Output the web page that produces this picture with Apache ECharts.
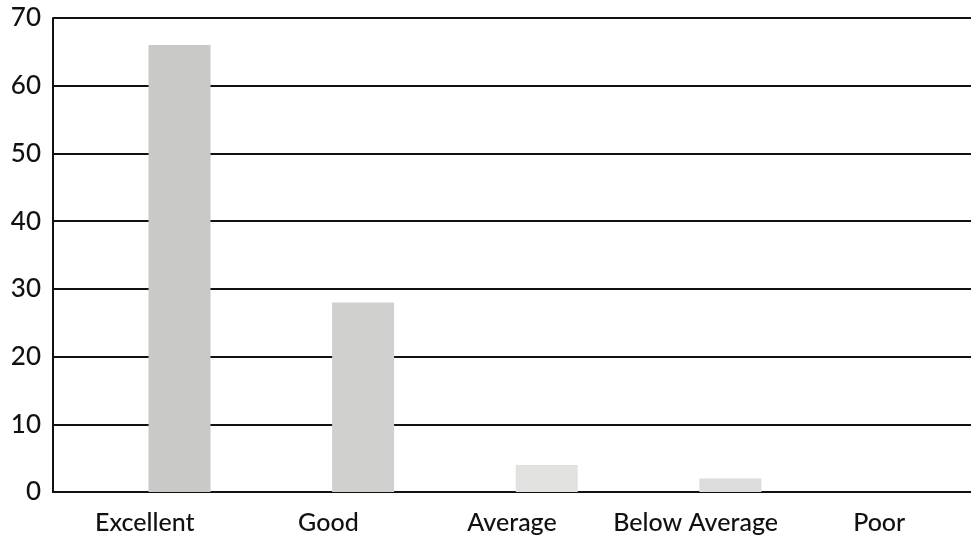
<!DOCTYPE html>
<html>
<head>
<meta charset="utf-8">
<script src="https://cdn.jsdelivr.net/npm/echarts@6/dist/echarts.min.js"></script>
<style>
html,body{margin:0;padding:0;background:#fff;}
#chart{width:971px;height:542px;}
</style>
</head>
<body>
<div id="chart"></div>
<script>
const categories = ["Excellent", "Good", "Average", "Below Average", "Poor"];
const values = [66, 28, 4, 2, 0];
const barColors = ["#c9cac7", "#d0d1ce", "#e1e1e0", "#dcdcdc", "#dcdcdc"];

const chart = echarts.init(document.getElementById('chart'));
chart.setOption({
  animation: false,
  backgroundColor: '#ffffff',
  grid: { left: 53, right: -3, top: 18, bottom: 50 },
  xAxis: {
    type: 'category',
    data: categories,
    axisLine: { show: true, lineStyle: { color: '#111', width: 2 } },
    axisTick: { show: false },
    axisLabel: {
      interval: 0,
      color: '#111', fontSize: 25, fontFamily: 'Lato', fontWeight: 500,
      margin: 18
    }
  },
  yAxis: {
    type: 'value', min: 0, max: 70, interval: 10,
    axisLine: { show: true, lineStyle: { color: '#111', width: 2 } },
    axisTick: { show: false },
    splitLine: { show: true, lineStyle: { color: '#111', width: 2 } },
    axisLabel: { color: '#111', fontSize: 26, fontFamily: 'Lato', fontWeight: 500, margin: 12 }
  },
  series: [
    {
      type: 'bar', data: categories.map(() => 0), barWidth: 62, barGap: '12%',
      itemStyle: { color: 'transparent' }, silent: true
    },
    {
      type: 'bar', barWidth: 62,
      data: values.map((v, i) => ({ value: v, itemStyle: { color: barColors[i] } }))
    }
  ]
});
</script>
</body>
</html>
